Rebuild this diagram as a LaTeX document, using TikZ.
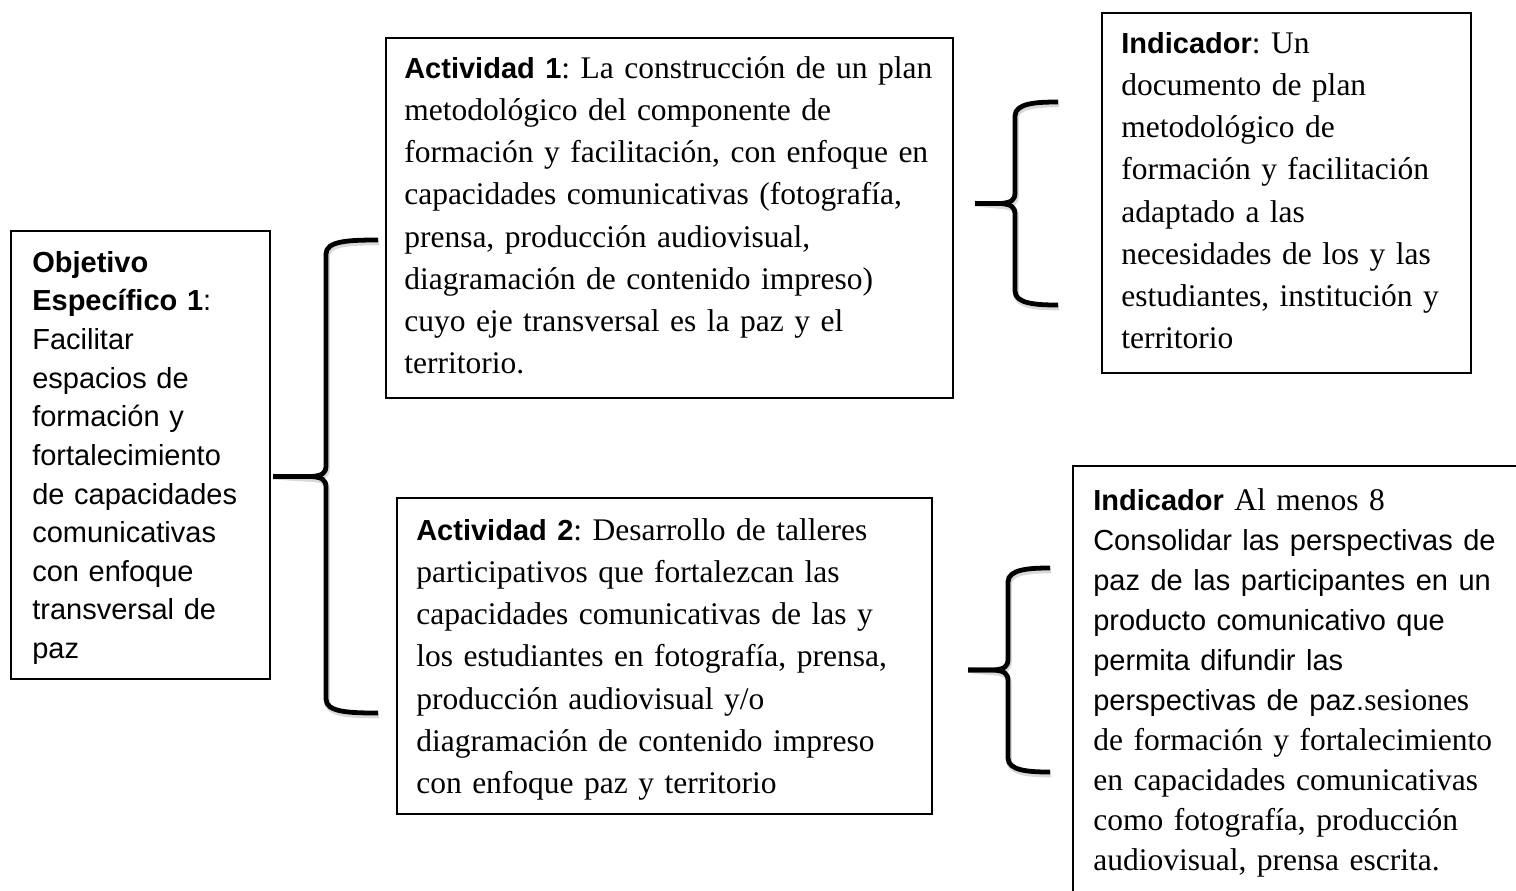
\documentclass[tikz,border=0pt]{standalone}
\usepackage{fontspec}
\setmainfont{Liberation Serif}
\setsansfont{Liberation Sans}[Scale=0.921]
\usepackage{tikz}
\usetikzlibrary{positioning}
\newcommand{\px}{0.025cm}
\newcommand{\hd}[1]{\textsf{\bfseries #1}}
% brace: name, arm end x, spine x, tip x, top y, bottom y
\newcommand{\curly}[6]{%
  \pgfmathsetmacro{\bmid}{(#5+#6)/2}
  \coordinate (#1) at (#4,\bmid);
  \foreach \sty/\sh in {braceshadow/{(1,2.5)},bracepath/{(0,0)}}{
  \draw[\sty,shift=\sh] (#2,#5) .. controls ({#3+22},#5) and (#3,{#5+1}) .. (#3,{#5+14})
    -- (#3,{\bmid-11}) .. controls (#3,{\bmid-3}) and ({#3-4},{\bmid-1}) .. ({#3-14},\bmid) -- (#1);
  \draw[\sty,shift=\sh] (#2,#6) .. controls ({#3+22},#6) and (#3,{#6-1}) .. (#3,{#6-14})
    -- (#3,{\bmid+11}) .. controls (#3,{\bmid+3}) and ({#3-4},{\bmid+1}) .. ({#3-14},\bmid) -- (#1);
  }%
}

\begin{document}
\frenchspacing
\begin{tikzpicture}[x=0.025cm,y=-0.025cm,
  box/.style={draw,line width=1.1pt,inner sep=0,anchor=north west},
  txt/.style={anchor=north west,inner sep=0,align=left,font=\fontsize{22.4pt}{30pt}\selectfont},
  bracepath/.style={line width=3.4pt,line join=round},
  braceshadow/.style={line width=4pt,draw=black!15,line join=round}]

	\useasboundingbox (0,0) rectangle (1516,890);
	\clip (0,0) rectangle (1516,890);

	% The boxes
	\node [box,minimum width=259*\px,minimum height=448*\px] at (10,230) (obj) {};
	\node [box,minimum width=567*\px,minimum height=360*\px] at (385,37) (act1) {};
	\node [box,minimum width=535*\px,minimum height=316*\px] at (396,497) (act2) {};
	\node [box,minimum width=369*\px,minimum height=360*\px] at (1101,12) (ind1) {};
	\node [box,minimum width=470*\px,minimum height=460*\px] at (1072,465) (ind2) {};

	% Texts
	\node [txt,text width=240*\px,font=\fontsize{22.4pt}{27.46pt}\selectfont\sffamily]
	  at ([shift={(22,15)}]obj.north west) (objtxt)
	  {\strut\textbf{Objetivo}\\ \textbf{Específico 1}:\\ Facilitar\\ espacios de\\ formación y\\
	   fortalecimiento\\ de capacidades\\ comunicativas\\ con enfoque\\ transversal de\\ paz};
	\node [txt,text width=560*\px] at ([shift={(19,11.5)}]act1.north west) (act1txt)
	  {\strut\hd{Actividad 1}: La construcción de un plan\\ metodológico del componente de\\
	   formación y facilitación, con enfoque en\\ capacidades comunicativas (fotografía,\\
	   prensa, producción audiovisual,\\ diagramación de contenido impreso)\\
	   cuyo eje transversal es la paz y el\\ territorio.};
	\node [txt,text width=520*\px] at ([shift={(20,13.5)}]act2.north west) (act2txt)
	  {\strut\hd{Actividad 2}: Desarrollo de talleres\\ participativos que fortalezcan las\\
	   capacidades comunicativas de las y\\ los estudiantes en fotografía, prensa,\\
	   producción audiovisual y/o\\ diagramación de contenido impreso\\ con enfoque paz y territorio};
	\node [txt,text width=350*\px] at ([shift={(20,11.5)}]ind1.north west) (ind1txt)
	  {\strut\hd{Indicador}: Un\\ documento de plan\\ metodológico de\\ formación y facilitación\\
	   adaptado a las\\ necesidades de los y las\\ estudiantes, institución y\\ territorio};
	\node [txt,text width=440*\px,font=\fontsize{22.4pt}{28.45pt}\selectfont]
	  at ([shift={(21,17)}]ind2.north west) (ind2txt)
	  {\strut\hd{Indicador} Al menos 8\\ \textsf{Consolidar las perspectivas de}\\
	   \textsf{paz de las participantes en un}\\ \textsf{producto comunicativo que}\\
	   \textsf{permita difundir las}\\ \textsf{perspectivas de paz.}sesiones\\
	   de formación y fortalecimiento\\ en capacidades comunicativas\\
	   como fotografía, producción\\ audiovisual, prensa escrita.};

	% Braces
	\curly{bobj}{378}{326}{273}{240}{713}
	\curly{bind1}{1058}{1015}{975}{102}{305}
	\curly{bind2}{1050}{1008}{968}{568}{772}

\end{tikzpicture}
\end{document}
